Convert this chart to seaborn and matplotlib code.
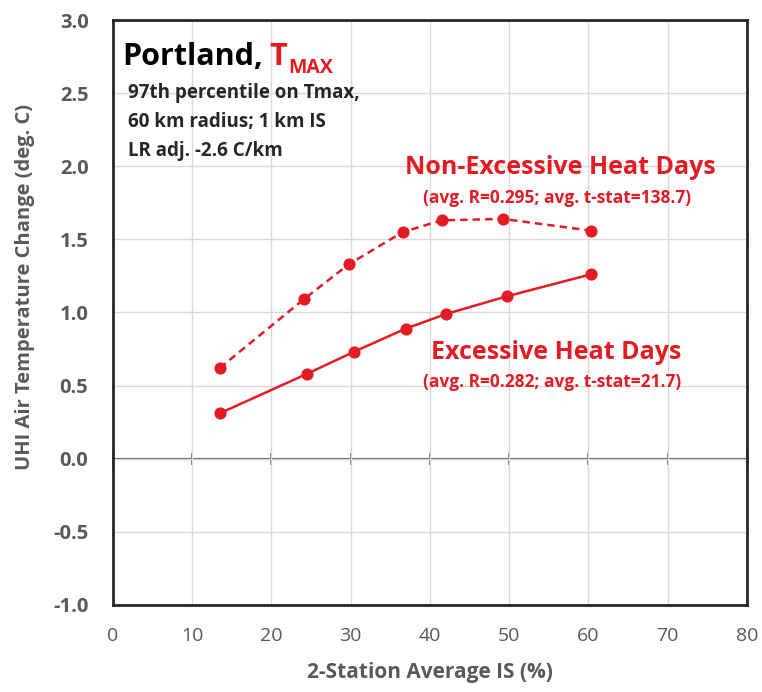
import pandas as pd
from matplotlib import pyplot as plt
import seaborn as sns

# 2-station average impervious surface (%) and UHI change (deg C)
is_excessive = [13.5, 24.5, 30.4, 37.0, 42.1, 49.7, 60.3]
uhi_excessive = [0.31, 0.58, 0.73, 0.89, 0.99, 1.11, 1.26]
is_nonexcessive = [13.5, 24.1, 29.8, 36.6, 41.5, 49.2, 60.3]
uhi_nonexcessive = [0.62, 1.09, 1.33, 1.55, 1.63, 1.64, 1.56]

x_ticks = [0, 10, 20, 30, 40, 50, 60, 70, 80]
y_ticks = [-1.0, -0.5, 0.0, 0.5, 1.0, 1.5, 2.0, 2.5, 3.0]

red = "#e31b23"
gray = "#595959"
dark = "#262626"

sns.set_style("whitegrid")
plt.rcParams['font.family'] = ['Open Sans', 'DejaVu Sans']

df_ex = pd.DataFrame({"IS": is_excessive, "UHI": uhi_excessive})
df_nex = pd.DataFrame({"IS": is_nonexcessive, "UHI": uhi_nonexcessive})

fig = plt.figure(figsize=(7.62, 6.92), dpi=100)
ax = fig.add_axes([0.148, 0.126, 0.832, 0.845])

sns.lineplot(data=df_ex, x="IS", y="UHI", ax=ax, color=red, marker="o", markersize=8,
             markeredgecolor=red, linewidth=1.8, sort=False)
sns.lineplot(data=df_nex, x="IS", y="UHI", ax=ax, color=red, marker="o", markersize=8,
             markeredgecolor=red, linewidth=1.8, linestyle=(0, (3, 2)), sort=False)

ax.set_xlim(0, 80)
ax.set_ylim(-1.0, 3.0)
ax.set_xticks(x_ticks)
ax.set_yticks(y_ticks)
ax.set_xticklabels([str(t) for t in x_ticks])
ax.set_yticklabels(["%.1f" % t for t in y_ticks])
ax.grid(True, color="#d9d9d9", linewidth=1)
for s in ax.spines.values():
    s.set_color(dark)
    s.set_linewidth(2)
ax.tick_params(axis="y", direction="inout", length=9, width=1.5, color=dark,
               labelsize=14.5, labelcolor=gray, pad=13)
ax.tick_params(axis="x", length=0, labelsize=14, labelcolor=gray, pad=16)
for lab in ax.get_yticklabels():
    lab.set_fontweight("bold")

# horizontal axis line at y = 0 with crossing ticks
zero_frac = (0 - y_ticks[0]) / (y_ticks[-1] - y_ticks[0])
sec = ax.secondary_xaxis(zero_frac)
sec.set_xticks(x_ticks)
sec.tick_params(direction="inout", length=9, width=1.2, color="#555555", labelbottom=False, labeltop=False)
for side in ["bottom", "top"]:
    sec.spines[side].set_color("#555555")
    sec.spines[side].set_linewidth(1.5)

ax.set_xlabel("2-Station Average IS (%)", fontsize=15, fontweight="bold", color=gray, labelpad=12)
ax.set_ylabel("UHI Air Temperature Change (deg. C)", fontsize=14.5, fontweight="bold", color=gray)
ax.yaxis.label.set_va("center")
ax.yaxis.set_label_coords(-0.139, 0.544)

# title block
ax.text(1.2, 2.695, "Portland,", fontsize=22, fontweight="bold", color="black", va="baseline")
ax.text(19.8, 2.695, "T", fontsize=22, fontweight="bold", color=red, va="baseline")
ax.text(22.2, 2.64, "MAX", fontsize=14, fontweight="bold", color=red, va="baseline")
ax.text(1.9, 2.469, "97th percentile on Tmax,", fontsize=13.5, fontweight="bold", color=dark, va="baseline")
ax.text(1.9, 2.271, "60 km radius; 1 km IS", fontsize=13.5, fontweight="bold", color=dark, va="baseline")
ax.text(1.9, 2.072, "LR adj. -2.6 C/km", fontsize=13.5, fontweight="bold", color=dark, va="baseline")

ax.text(56.5, 1.99, "Non-Excessive Heat Days", fontsize=18, fontweight="bold", color=red, ha="center", va="center")
ax.text(56.0, 1.785, "(avg. R=0.295; avg. t-stat=138.7)", fontsize=12.5, fontweight="bold", color=red, ha="center", va="center")
ax.text(56.0, 0.725, "Excessive Heat Days", fontsize=18, fontweight="bold", color=red, ha="center", va="center")
ax.text(55.4, 0.527, "(avg. R=0.282; avg. t-stat=21.7)", fontsize=12.5, fontweight="bold", color=red, ha="center", va="center")

plt.savefig("out.png", dpi=100)
